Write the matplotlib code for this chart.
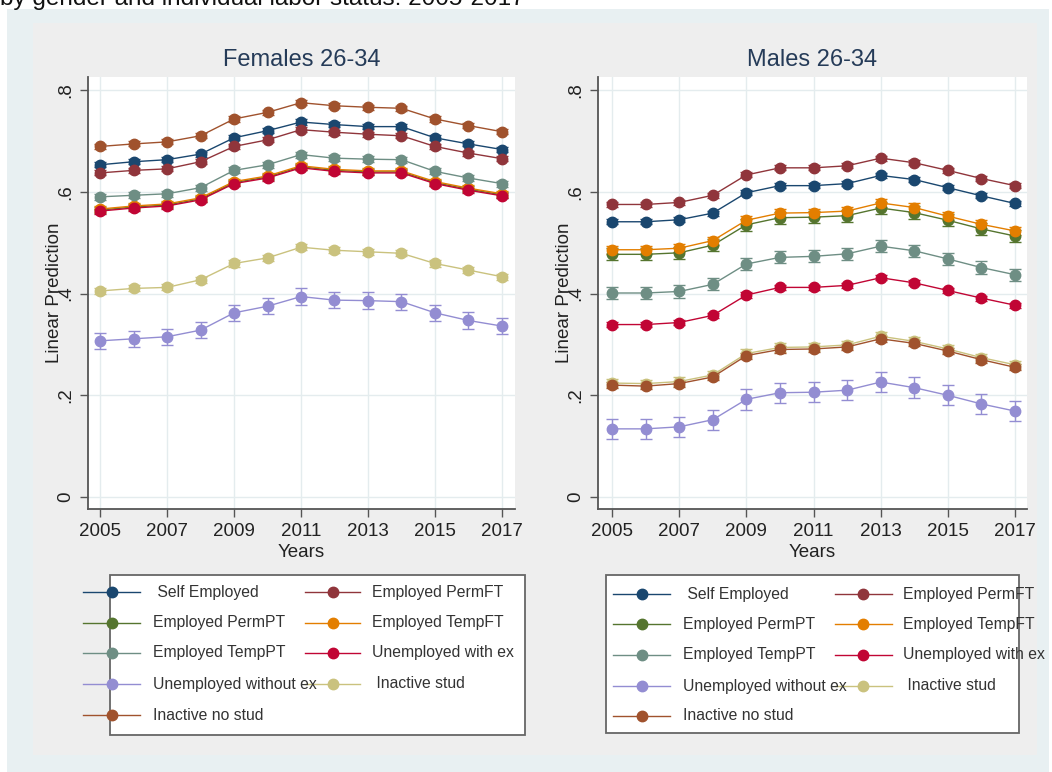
import numpy as np
import matplotlib
matplotlib.use("Agg")
from matplotlib import pyplot as plt
from matplotlib.patches import Rectangle
from matplotlib.lines import Line2D

plt.rcParams['font.family'] = ['Liberation Sans', 'DejaVu Sans']

years = np.arange(2005, 2018)
status = ["Self Employed", "Employed PermFT", "Employed PermPT", "Employed TempFT",
          "Employed TempPT", "Unemployed with ex", "Unemployed without ex",
          "Inactive stud", "Inactive no stud"]
colors = ["#1a476f", "#90353b", "#55752f", "#e37e00", "#6e8e84",
          "#c10534", "#938dd2", "#cac27e", "#a0522d"]

# predicted probabilities, women 26-34
fem_self = [0.653, 0.659, 0.663, 0.674, 0.706, 0.720, 0.737, 0.732, 0.728, 0.728, 0.706, 0.694, 0.683]
fem_permft = [0.637, 0.642, 0.645, 0.659, 0.689, 0.702, 0.722, 0.717, 0.713, 0.710, 0.689, 0.676, 0.665]
fem_permpt = [0.564, 0.570, 0.574, 0.586, 0.618, 0.629, 0.649, 0.642, 0.639, 0.639, 0.618, 0.605, 0.594]
fem_tempft = [0.566, 0.572, 0.576, 0.588, 0.620, 0.631, 0.651, 0.644, 0.641, 0.641, 0.620, 0.607, 0.596]
fem_temppt = [0.590, 0.593, 0.596, 0.608, 0.642, 0.653, 0.673, 0.666, 0.664, 0.663, 0.640, 0.627, 0.616]
fem_unemp_ex = [0.562, 0.568, 0.572, 0.584, 0.616, 0.627, 0.647, 0.640, 0.637, 0.637, 0.616, 0.603, 0.592]
fem_unemp_noex = [0.307, 0.311, 0.315, 0.328, 0.362, 0.375, 0.394, 0.387, 0.386, 0.384, 0.362, 0.347, 0.336]
fem_stud = [0.405, 0.410, 0.412, 0.427, 0.459, 0.470, 0.491, 0.485, 0.482, 0.479, 0.459, 0.446, 0.433]
fem_nostud = [0.689, 0.694, 0.698, 0.710, 0.743, 0.756, 0.775, 0.769, 0.766, 0.764, 0.743, 0.730, 0.718]
fem_ci = [0.005, 0.005, 0.006, 0.006, 0.006, 0.005, 0.016, 0.006, 0.005]

# predicted probabilities, men 26-34
mal_self = [0.541, 0.541, 0.545, 0.558, 0.598, 0.612, 0.612, 0.616, 0.632, 0.624, 0.608, 0.592, 0.577]
mal_permft = [0.575, 0.575, 0.579, 0.593, 0.633, 0.647, 0.647, 0.651, 0.666, 0.657, 0.642, 0.626, 0.612]
mal_permpt = [0.477, 0.477, 0.480, 0.495, 0.535, 0.549, 0.550, 0.553, 0.568, 0.559, 0.544, 0.527, 0.513]
mal_tempft = [0.486, 0.486, 0.489, 0.504, 0.544, 0.558, 0.559, 0.562, 0.578, 0.569, 0.552, 0.536, 0.523]
mal_temppt = [0.401, 0.401, 0.404, 0.418, 0.458, 0.471, 0.473, 0.478, 0.493, 0.484, 0.468, 0.451, 0.437]
mal_unemp_ex = [0.339, 0.339, 0.343, 0.357, 0.397, 0.412, 0.412, 0.416, 0.431, 0.421, 0.406, 0.391, 0.377]
mal_unemp_noex = [0.134, 0.134, 0.138, 0.152, 0.192, 0.205, 0.206, 0.210, 0.226, 0.215, 0.200, 0.183, 0.169]
mal_stud = [0.224, 0.223, 0.227, 0.240, 0.282, 0.294, 0.295, 0.299, 0.316, 0.306, 0.291, 0.274, 0.260]
mal_nostud = [0.220, 0.218, 0.223, 0.236, 0.278, 0.290, 0.291, 0.295, 0.311, 0.302, 0.287, 0.270, 0.255]
mal_ci = [0.005, 0.005, 0.012, 0.008, 0.012, 0.005, 0.020, 0.008, 0.006]

females = [fem_self, fem_permft, fem_permpt, fem_tempft, fem_temppt,
           fem_unemp_ex, fem_unemp_noex, fem_stud, fem_nostud]
males = [mal_self, mal_permft, mal_permpt, mal_tempft, mal_temppt,
         mal_unemp_ex, mal_unemp_noex, mal_stud, mal_nostud]

W, H = 1052, 772
fig = plt.figure(figsize=(W / 100, H / 100), dpi=100)
fig.patch.set_facecolor("white")


def px(x, y, w, h):
    # pixel box (top-left origin) -> figure fraction rect
    return [x / W, 1 - (y + h) / H, w / W, h / H]


# graph region backgrounds
fig.patches.append(Rectangle((7 / W, 0), 1042 / W, 1 - 9 / H, transform=fig.transFigure,
                             facecolor="#e8f0f2", edgecolor="none", zorder=-2))
fig.patches.append(Rectangle((33 / W, 17 / H), 1004 / W, 1 - 40 / H, transform=fig.transFigure,
                             facecolor="#eeeeee", edgecolor="none", zorder=-1))

fig.text(0.0, 1 - 4.5 / H, "by gender and individual labor status: 2005-2017",
         fontsize=17.5, va="baseline", ha="left", color="#111111")

panels = [("Females 26-34", females, fem_ci, (88, 77, 427, 432), (2004.64, 2017.39)),
          ("Males 26-34", males, mal_ci, (598, 77, 429, 432), (2004.58, 2017.36))]

for title, data, ci, box, xl in panels:
    ax = fig.add_axes(px(*box))
    ax.set_facecolor("white")
    for vals, err, c in zip(data, ci, colors):
        ax.errorbar(years, vals, yerr=err, fmt="-o", color=c, lw=1.0, ms=7.5,
                    elinewidth=1.0, capsize=4, capthick=1.0)
    ax.set_xlim(*xl)
    ax.set_ylim(-0.0235, 0.8255)
    ax.set_xticks(np.arange(2005, 2018, 2))
    ax.set_yticks([0, 0.2, 0.4, 0.6, 0.8])
    ax.set_yticklabels(["0", ".2", ".4", ".6", ".8"], rotation=90, va="center")
    ax.grid(True, color="#e4ecee", lw=1.0)
    ax.set_axisbelow(True)
    for s in ["top", "right"]:
        ax.spines[s].set_visible(False)
    for s in ["left", "bottom"]:
        ax.spines[s].set_color("#555555")
        ax.spines[s].set_linewidth(1.3)
    ax.tick_params(axis="both", colors="#555555", labelcolor="#222222",
                   labelsize=13.5, length=6, width=1.0, pad=4)
    ax.set_title(title, fontsize=17, color="#253b58", pad=8)
    ax.set_xlabel("Years", fontsize=13.5, color="#222222", labelpad=3)
    ax.set_ylabel("Linear Prediction", fontsize=13.5, color="#222222")
    ax.yaxis.set_label_coords(-0.058, 0.5)

# legends drawn in figure pixels
legends = [dict(box=(110, 575, 415, 160), c1=(83, 140, 112, 153), c2=(305, 360, 333, 372),
                rows=[592, 623, 653, 684, 715]),
           dict(box=(606, 575, 413, 158), c1=(613, 670, 642, 683), c2=(835, 892, 863, 903),
                rows=[594, 624, 655, 686, 716])]

for lg in legends:
    bx, by, bw, bh = lg["box"]
    fig.patches.append(Rectangle((bx / W, 1 - (by + bh) / H), bw / W, bh / H,
                                 transform=fig.transFigure, facecolor="white",
                                 edgecolor="#666666", lw=1.3, zorder=1))
    for i, (name, c) in enumerate(zip(status, colors)):
        x0, x1, xm, xt = lg["c1"] if i % 2 == 0 else lg["c2"]
        yy = 1 - lg["rows"][i // 2] / H
        fig.add_artist(Line2D([x0 / W, x1 / W], [yy, yy], color=c, lw=1.0, zorder=2))
        fig.add_artist(Line2D([xm / W], [yy], marker="o", ms=7.5, color=c, lw=0, zorder=3))
        lab = " " + name if name in ("Self Employed", "Inactive stud") else name
        fig.text(xt / W, yy, lab, fontsize=11.3, va="center", ha="left",
                 color="#333333", zorder=4)

fig.savefig("out.png", dpi=100)
